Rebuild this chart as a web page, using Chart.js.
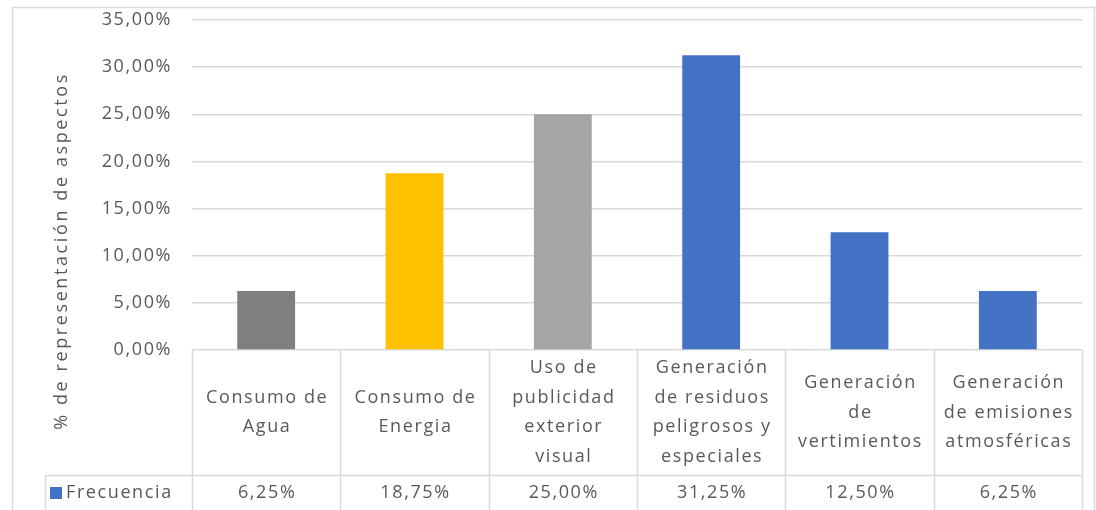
<!DOCTYPE html>
<html>
<head>
<meta charset="utf-8">
<script src="https://cdn.jsdelivr.net/npm/chart.js@4.4.1/dist/chart.umd.min.js"></script>
<style>
html,body{margin:0;padding:0;background:#fff;}
#wrap{width:1096px;height:510px;}
</style>
</head>
<body>
<div id="wrap"><canvas id="c" width="1096" height="510"></canvas></div>
<script>
const categories = [
  ['Consumo de','Agua'],
  ['Consumo de','Energia'],
  ['Uso de','publicidad','exterior','visual'],
  ['Generación','de residuos','peligrosos y','especiales'],
  ['Generación','de','vertimientos'],
  ['Generación','de emisiones','atmosféricas']
];
const seriesName = 'Frecuencia';
const values = [6.25, 18.75, 25.00, 31.25, 12.50, 6.25];
const barColors = ['#7f7f7f','#ffc000','#a5a5a5','#4472c4','#4472c4','#4472c4'];
const legendColor = '#4472c4';
const yTicks = [0,5,10,15,20,25,30,35];
const yTitle = '% de representación de aspectos';

const FONT = '"Open Sans", "Noto Sans", sans-serif';
const TXT = '#595959';
const LINE = '#d9d9d9';
const SPACING = '1.6px';
const fmt = v => v.toFixed(2).replace('.', ',') + '%';

const tablePlugin = {
  id: 'tablePlugin',
  beforeDraw(chart) {
    const ctx = chart.ctx;
    ctx.save();
    ctx.fillStyle = '#fff';
    ctx.fillRect(0, 0, chart.width, chart.height);
    ctx.strokeStyle = LINE;
    ctx.lineWidth = 1.5;
    ctx.strokeRect(12.5, 7.5, 1082, 520);
    ctx.restore();
    ctx.letterSpacing = SPACING;
  },
  afterDraw(chart) {
    const ctx = chart.ctx;
    const ca = chart.chartArea;
    const xs = chart.scales.x;
    const n = categories.length;
    const w = (ca.right - ca.left) / n;
    const rowY = ca.bottom + 125;
    ctx.save();
    ctx.strokeStyle = LINE;
    ctx.lineWidth = 1.5;
    ctx.beginPath();
    for (let i = 0; i <= n; i++) {
      const x = Math.round(ca.left + i * w) + 0.5;
      ctx.moveTo(x, ca.bottom);
      ctx.lineTo(x, chart.height);
    }
    ctx.moveTo(45, rowY + 0.5);
    ctx.lineTo(ca.right, rowY + 0.5);
    ctx.moveTo(45.5, rowY);
    ctx.lineTo(45.5, chart.height);
    ctx.stroke();

    ctx.letterSpacing = SPACING;
    ctx.fillStyle = TXT;
    ctx.font = '18px ' + FONT;
    ctx.textAlign = 'center';
    ctx.textBaseline = 'middle';
    const midY = (ca.bottom + rowY) / 2;
    const lh = 29.5;
    categories.forEach((lines, i) => {
      const cx = xs.getPixelForValue(i) + 1;
      const y0 = midY - (lines.length - 1) * lh / 2;
      lines.forEach((t, k) => ctx.fillText(t, cx, y0 + k * lh));
      ctx.fillText(fmt(values[i]), cx, rowY + 18);
    });
    ctx.fillStyle = legendColor;
    ctx.fillRect(50, rowY + 12, 12, 12);
    ctx.fillStyle = TXT;
    ctx.textAlign = 'left';
    ctx.fillText(seriesName, 66, rowY + 18);

    ctx.letterSpacing = '2.6px';
    ctx.translate(62, 251);
    ctx.rotate(-Math.PI / 2);
    ctx.textAlign = 'center';
    ctx.fillText(yTitle, 0, 0);
    ctx.restore();
  }
};

new Chart(document.getElementById('c'), {
  type: 'bar',
  data: {
    labels: categories,
    datasets: [{
      label: seriesName,
      data: values,
      backgroundColor: barColors,
      borderWidth: 0,
      categoryPercentage: 1,
      barPercentage: 0.39
    }]
  },
  options: {
    responsive: false,
    animation: false,
    devicePixelRatio: 1,
    layout: { autoPadding: false, padding: { top: 20, left: 0, right: 14, bottom: 0 } },
    plugins: { legend: { display: false }, tooltip: { enabled: false } },
    scales: {
      x: {
        ticks: { display: false },
        grid: { display: false },
        border: { display: false },
        afterFit(s) { s.height = 160; s.paddingLeft = 0; s.paddingRight = 0; }
      },
      y: {
        min: 0, max: 35,
        afterBuildTicks(s) { s.ticks = yTicks.map(v => ({ value: v })); },
        ticks: {
          color: TXT,
          font: { family: FONT, size: 18 },
          padding: 20,
          callback: v => fmt(v)
        },
        grid: { color: LINE, lineWidth: 1.5, drawTicks: false },
        border: { display: false },
        afterFit(s) { s.width = 192; s.paddingTop = 0; s.paddingBottom = 0; }
      }
    }
  },
  plugins: [tablePlugin]
});
</script>
</body>
</html>
